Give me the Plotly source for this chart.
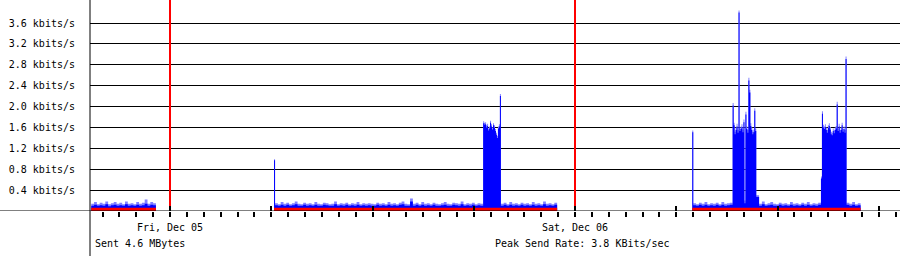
import plotly.graph_objects as go
import pandas as pd

# ---------------- data (kbits/s) ----------------
NOISE_STEP = 10.0   # minutes between low-traffic samples
FINE_STEP = 3.5     # minutes between samples in bursts / spikes

x_range = ["2025-12-04 19:15:33", "2025-12-06 19:15:33"]
day_start = "2025-12-05 00:00"

# Thursday evening
thu_start = "2025-12-04 19:20"
thu_total = [0.14, 0.17, 0.13, 0.16, 0.14, 0.18, 0.13, 0.15, 0.17, 0.14, 0.16, 0.13,
             0.18, 0.14, 0.15, 0.13, 0.17, 0.14, 0.16, 0.22, 0.14, 0.17, 0.15]
thu_blue = [0.10, 0.12, 0.10, 0.11, 0.10, 0.13, 0.09, 0.11, 0.12, 0.10, 0.11, 0.10,
            0.13, 0.10, 0.11, 0.10, 0.12, 0.10, 0.11, 0.14, 0.10, 0.12, 0.11]

# Friday
fri_start = "2025-12-05 06:10"
fri_spike_total = [0.99]
fri_spike_blue = [0.97]
fri_am_total = [0.15, 0.13, 0.17, 0.14, 0.16, 0.13, 0.15, 0.18, 0.14, 0.13,
                0.16, 0.14, 0.15, 0.13, 0.17, 0.14, 0.13, 0.16, 0.15, 0.13,
                0.14, 0.18, 0.13, 0.15, 0.14, 0.16, 0.13, 0.15, 0.14, 0.17,
                0.13, 0.15, 0.14, 0.15, 0.14, 0.13, 0.16, 0.14, 0.15, 0.13,
                0.17, 0.14, 0.15, 0.13, 0.16, 0.18, 0.14, 0.13, 0.24, 0.14,
                0.16, 0.13, 0.17, 0.14, 0.15, 0.13, 0.16, 0.14, 0.13, 0.15,
                0.17, 0.14, 0.13, 0.16, 0.15, 0.14, 0.18, 0.13, 0.15, 0.14,
                0.16, 0.13, 0.15, 0.14]
fri_am_blue = [0.11, 0.10, 0.12, 0.10, 0.12, 0.10, 0.11, 0.13, 0.10, 0.10,
               0.12, 0.10, 0.11, 0.10, 0.12, 0.10, 0.10, 0.12, 0.11, 0.10,
               0.10, 0.13, 0.10, 0.11, 0.10, 0.12, 0.10, 0.11, 0.10, 0.12,
               0.10, 0.11, 0.10, 0.11, 0.10, 0.10, 0.12, 0.10, 0.11, 0.10,
               0.12, 0.10, 0.11, 0.10, 0.12, 0.13, 0.10, 0.10, 0.18, 0.10,
               0.12, 0.10, 0.12, 0.10, 0.11, 0.10, 0.12, 0.10, 0.10, 0.11,
               0.12, 0.10, 0.10, 0.12, 0.11, 0.10, 0.13, 0.10, 0.11, 0.10,
               0.12, 0.10, 0.11, 0.10]
fri_burst_total = [1.72, 1.69, 1.70, 1.64, 1.67, 1.58, 1.62, 1.73, 1.66,
                   1.60, 1.68, 1.64, 1.57, 1.50, 1.44, 1.62, 1.66, 2.24]
fri_burst_blue = [1.68, 1.65, 1.66, 1.60, 1.63, 1.54, 1.58, 1.69, 1.62,
                  1.56, 1.64, 1.60, 1.53, 1.46, 1.40, 1.58, 1.62, 2.20]
fri_pm_total = [0.14, 0.16, 0.13, 0.17, 0.14, 0.15, 0.13, 0.16, 0.14, 0.15,
                0.13, 0.17, 0.14, 0.15, 0.13, 0.18, 0.14, 0.15, 0.13, 0.16]
fri_pm_blue = [0.10, 0.12, 0.10, 0.12, 0.10, 0.11, 0.10, 0.12, 0.10, 0.11,
               0.10, 0.12, 0.10, 0.11, 0.10, 0.13, 0.10, 0.11, 0.10, 0.12]

# Saturday
sat_start = "2025-12-06 06:57"
sat_spike_total = [1.54]
sat_spike_blue = [1.51]
sat_am_total = [0.15, 0.13, 0.16, 0.14, 0.17, 0.13, 0.15, 0.14, 0.16, 0.13, 0.17, 0.14, 0.15, 0.16]
sat_am_blue = [0.11, 0.10, 0.12, 0.10, 0.12, 0.10, 0.11, 0.10, 0.12, 0.10, 0.12, 0.10, 0.11, 0.12]
sat_burst1_total = [2.07, 1.69, 1.52, 1.60, 1.67, 1.55, 3.84, 1.58, 1.62, 1.66, 1.56, 1.75,
                    0.20, 1.90, 1.62, 1.55, 2.55, 2.32, 1.68, 1.60, 1.52, 1.56, 1.97, 1.58]
sat_burst1_blue = [2.02, 1.64, 1.47, 1.55, 1.62, 1.50, 3.80, 1.53, 1.57, 1.61, 1.51, 1.70,
                   0.15, 1.85, 1.57, 1.50, 2.50, 2.27, 1.63, 1.55, 1.47, 1.51, 1.92, 1.53]
sat_mid_total = [0.30, 0.14, 0.18, 0.13, 0.15, 0.17, 0.14, 0.13, 0.16, 0.14, 0.15, 0.13,
                 0.17, 0.14, 0.15, 0.13, 0.16, 0.14, 0.17, 0.13, 0.15, 0.14, 0.16]
sat_mid_blue = [0.27, 0.10, 0.13, 0.10, 0.11, 0.12, 0.10, 0.10, 0.12, 0.10, 0.11, 0.10,
                0.12, 0.10, 0.11, 0.10, 0.12, 0.10, 0.12, 0.10, 0.11, 0.10, 0.12]
sat_burst2_total = [0.66, 1.91, 1.65, 1.62, 1.66, 1.60, 1.55, 1.64, 1.68, 1.61, 1.52, 1.50, 1.58,
                    1.54, 1.60, 1.63, 2.09, 1.58, 1.67, 1.55, 1.60, 1.69, 1.57, 1.62, 1.55, 2.96]
sat_burst2_blue = [0.62, 1.86, 1.60, 1.57, 1.61, 1.55, 1.50, 1.59, 1.63, 1.56, 1.47, 1.45, 1.53,
                   1.49, 1.55, 1.58, 2.04, 1.53, 1.62, 1.50, 1.55, 1.64, 1.52, 1.57, 1.50, 2.91]
sat_pm_total = [0.16, 0.14, 0.17, 0.13, 0.15]
sat_pm_blue = [0.12, 0.10, 0.12, 0.10, 0.11]

red_level = [0.06, 0.06, 0.06]   # bottom (red) layer per block

y_ticks = [0.4, 0.8, 1.2, 1.6, 2.0, 2.4, 2.8, 3.2, 3.6]
sent_mbytes = 4.6

# ---------------- build series ----------------
blocks = [
    (thu_start, [(NOISE_STEP, thu_total, thu_blue)]),
    (fri_start, [(FINE_STEP, fri_spike_total, fri_spike_blue),
                 (NOISE_STEP, fri_am_total, fri_am_blue),
                 (FINE_STEP, fri_burst_total, fri_burst_blue),
                 (NOISE_STEP, fri_pm_total, fri_pm_blue)]),
    (sat_start, [(FINE_STEP, sat_spike_total, sat_spike_blue),
                 (NOISE_STEP, sat_am_total, sat_am_blue),
                 (FINE_STEP, sat_burst1_total, sat_burst1_blue),
                 (NOISE_STEP, sat_mid_total, sat_mid_blue),
                 (FINE_STEP, sat_burst2_total, sat_burst2_blue),
                 (NOISE_STEP, sat_pm_total, sat_pm_blue)]),
]

xs, tot, blu = [], [], []
rx, ry = [], []
for (start, parts), lvl in zip(blocks, red_level):
    t = pd.Timestamp(start)
    rx.append(t); ry.append(lvl)
    for step, T, B in parts:
        for a, b in zip(T, B):
            xs.append(t); tot.append(a); blu.append(b)
            t = t + pd.Timedelta(minutes=step)
    xs.append(t); tot.append(0); blu.append(0)
    rx.append(t); ry.append(0)

peak = max(tot)

fig = go.Figure()
fig.add_trace(go.Scatter(x=xs, y=tot, mode="lines", line=dict(width=0, shape="hv"),
                         fill="tozeroy", fillcolor="#8080FF", hoverinfo="skip"))
fig.add_trace(go.Scatter(x=xs, y=blu, mode="lines", line=dict(width=0, shape="hv"),
                         fill="tozeroy", fillcolor="#0000FF", hoverinfo="skip"))
fig.add_trace(go.Scatter(x=rx, y=ry, mode="lines", line=dict(width=0, shape="hv"),
                         fill="tozeroy", fillcolor="#FF0000", hoverinfo="skip", xaxis="x2"))

mono = dict(family="DejaVu Sans Mono", size=10, color="black")
DAY = 86400000
HOUR = 3600000

fig.update_layout(
    width=900, height=256,
    margin=dict(l=90, r=0, t=0, b=45),
    paper_bgcolor="white", plot_bgcolor="white",
    showlegend=False,
    font=mono,
    xaxis=dict(type="date", range=x_range, showgrid=False, zeroline=False, showline=False,
               tick0=day_start, dtick=DAY, tickformat="%a, %b %d", tickfont=mono,
               ticks="outside", ticklen=5, tickwidth=2, tickcolor="black",
               ticklabelstandoff=2,
               minor=dict(dtick=HOUR, tick0=day_start, ticks="outside", ticklen=5,
                          tickwidth=2, tickcolor="black", showgrid=False)),
    xaxis2=dict(type="date", range=x_range, overlaying="x", side="bottom", anchor="y",
                showgrid=True, gridcolor="#FF0000", gridwidth=2, zeroline=False,
                tick0=day_start, dtick=DAY, showticklabels=False,
                ticks="inside", ticklen=5, tickwidth=2, tickcolor="black",
                minor=dict(dtick=6 * HOUR, tick0=day_start, ticks="inside", ticklen=5,
                           tickwidth=2, tickcolor="black", showgrid=False)),
    yaxis=dict(range=[0, 4.0406], tickvals=y_ticks,
               ticktext=[f"{v:.1f} kbits/s" for v in y_ticks],
               showgrid=True, gridcolor="black", gridwidth=1, zeroline=False,
               showline=False, ticks="", ticklabelstandoff=14, tickfont=mono),
    shapes=[
        dict(type="line", xref="paper", yref="y", x0=-90 / 810, x1=1, y0=0, y1=0,
             line=dict(color="black", width=1), layer="above"),
        dict(type="line", xref="paper", yref="paper", x0=0, x1=0, y0=-45 / 211, y1=1,
             line=dict(color="black", width=1), layer="above"),
    ],
    annotations=[
        dict(xref="paper", yref="paper", x=3 / 810, y=-32 / 211, xanchor="left", yanchor="middle",
             text=f"Sent {sent_mbytes} MBytes", showarrow=False, font=mono),
        dict(xref="paper", yref="paper", x=0.5 - 2 / 810, y=-32 / 211, xanchor="left", yanchor="middle",
             text=f"Peak Send Rate: {peak:.1f} KBits/sec", showarrow=False, font=mono),
    ],
)

fig.write_html("out.html")
